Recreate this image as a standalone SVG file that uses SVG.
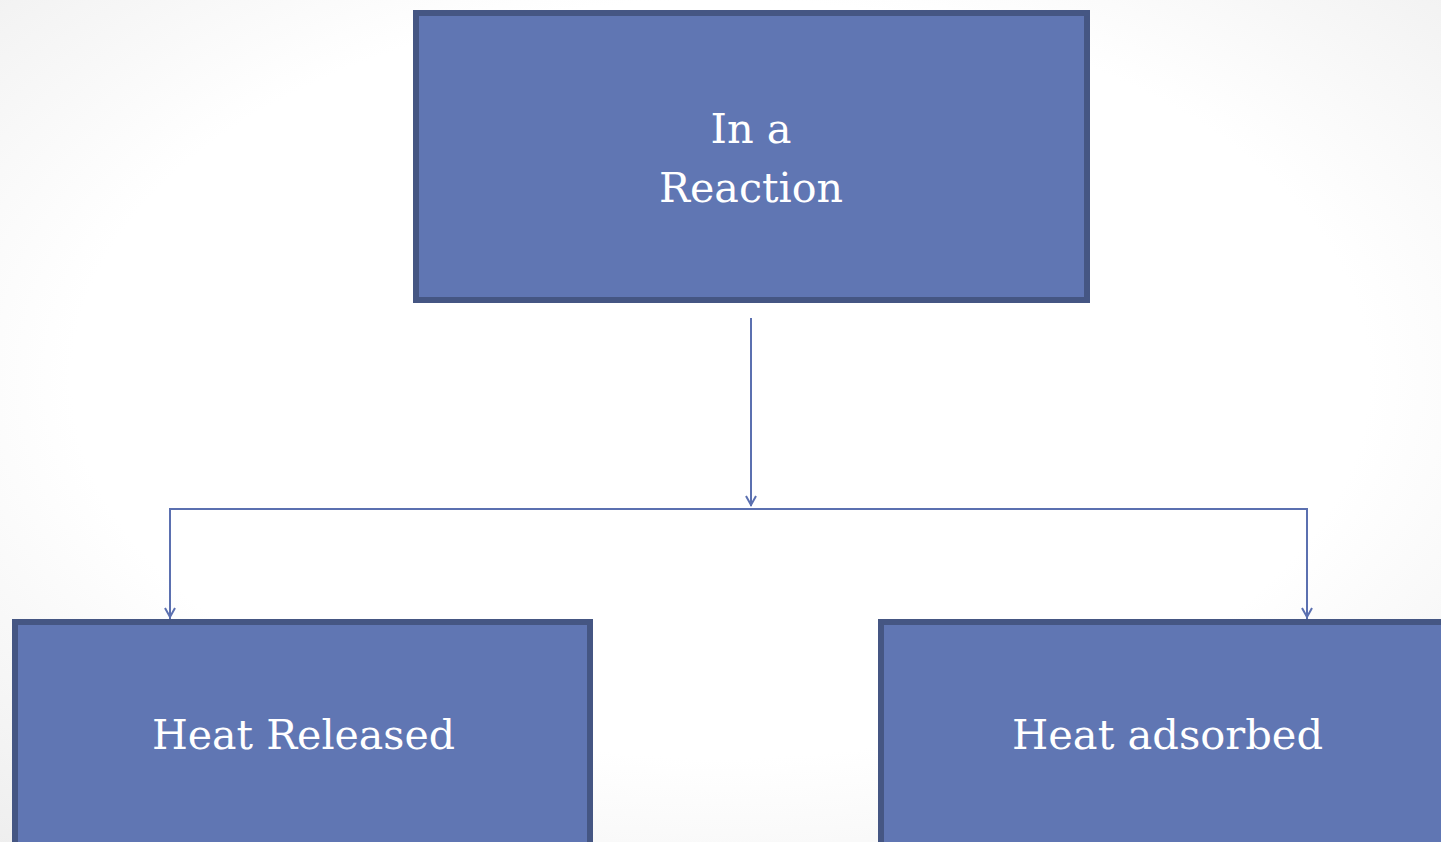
<svg xmlns="http://www.w3.org/2000/svg" width="1441" height="842" viewBox="0 0 1441 842">
<style>
.box{fill:#6076B3;stroke:#455683;stroke-width:6}
.lbl{font-family:"DejaVu Serif","Liberation Serif",serif;font-size:41px;fill:#ffffff;text-anchor:middle}
.conn{fill:none;stroke:#5B70B0;stroke-width:2}
</style>
<defs>
<radialGradient id="bg" cx="50%" cy="45%" r="75%">
<stop offset="0" stop-color="#ffffff"/>
<stop offset="0.6" stop-color="#ffffff"/>
<stop offset="1" stop-color="#eeeeee"/>
</radialGradient>
<marker id="arr" markerUnits="userSpaceOnUse" markerWidth="16" markerHeight="16" viewBox="-13 -8 16 16" refX="0" refY="0" orient="auto">
<path d="M-10,-5 L-1,0 L-10,5" fill="none" stroke="#5B70B0" stroke-width="2"/>
</marker>
</defs>
<rect width="1441" height="842" fill="url(#bg)"/>
<g id="connectors">
<line class="conn" x1="751" y1="318" x2="751" y2="506" marker-end="url(#arr)"/>
<polyline class="conn" points="170,619 170,509 1307,509 1307,619"/>
<line class="conn" x1="170" y1="509" x2="170" y2="618" marker-end="url(#arr)"/>
<line class="conn" x1="1307" y1="509" x2="1307" y2="618" marker-end="url(#arr)"/>
</g>
<g id="node-reaction">
<rect class="box" x="416" y="13" width="671" height="287"/>
<text class="lbl" x="751" y="143" textLength="81" lengthAdjust="spacingAndGlyphs">In a</text>
<text class="lbl" x="751" y="202" textLength="184" lengthAdjust="spacingAndGlyphs">Reaction</text>
</g>
<g id="node-released">
<rect class="box" x="15" y="622" width="575" height="300"/>
<text class="lbl" x="303.5" y="749" textLength="303" lengthAdjust="spacingAndGlyphs">Heat Released</text>
</g>
<g id="node-adsorbed">
<rect class="box" x="881" y="622" width="572" height="300"/>
<text class="lbl" x="1167.5" y="749" textLength="311" lengthAdjust="spacingAndGlyphs">Heat adsorbed</text>
</g>
</svg>
